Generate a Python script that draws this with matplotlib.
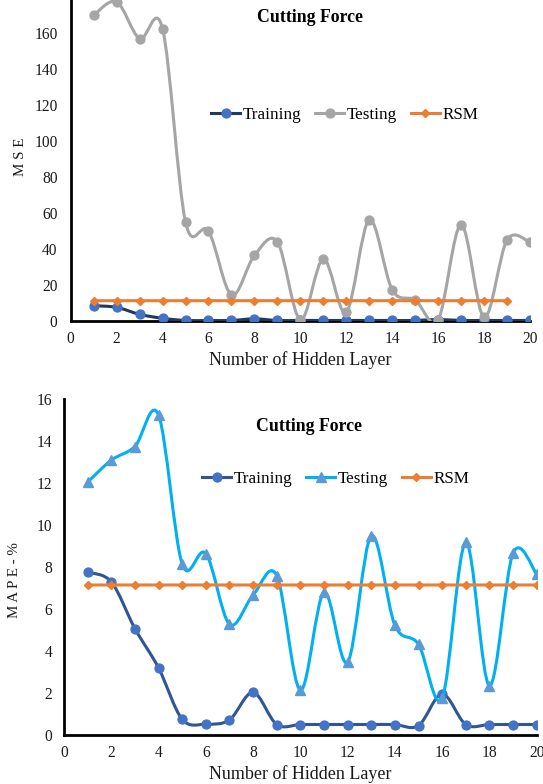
import numpy as np
import matplotlib
matplotlib.use("Agg")
import matplotlib.pyplot as plt
from matplotlib.path import Path
from matplotlib.patches import PathPatch
from matplotlib.lines import Line2D

plt.rcParams['font.family'] = ['Liberation Serif', 'DejaVu Serif']

layers = list(range(1, 21))

# MSE (top panel)
mse_training = [8.5, 7.6, 3.7, 1.5, 0.3, 0.3, 0.3, 1.2, 0.3, 0.3,
                0.3, 0.3, 0.3, 0.3, 0.3, 0.8, 0.3, 0.3, 0.3, 0.3]
mse_testing = [170, 177.5, 157, 162.5, 55, 50, 14.5, 36.5, 44, 0.7,
               34.5, 4.8, 56.3, 17.3, 11.7, 0.7, 53.5, 2, 45, 43.8]
rsm_layers = list(range(1, 20))
mse_rsm = [11.3] * 19

# MAPE (bottom panel)
mape_training = [7.75, 7.3, 5.07, 3.2, 0.75, 0.52, 0.72, 2.03, 0.5, 0.5,
                 0.5, 0.5, 0.5, 0.5, 0.45, 1.95, 0.5, 0.5, 0.5, 0.5]
mape_testing = [12.05, 13.1, 13.75, 15.25, 8.15, 8.65, 5.28, 6.67, 7.6, 2.14,
                6.8, 3.47, 9.5, 5.23, 4.32, 1.76, 9.19, 2.35, 8.67, 7.67]
mape_rsm = [7.15] * 20

W, H = 543, 784


def smooth(ax, x, y, color, lw, z):
    # Excel-style smoothed line: cubic Bezier through every point
    x = np.asarray(x, float)
    y = np.asarray(y, float)
    n = len(x)
    verts = [(x[0], y[0])]
    codes = [Path.MOVETO]
    for i in range(n - 1):
        p0 = np.array([x[max(i - 1, 0)], y[max(i - 1, 0)]])
        p1 = np.array([x[i], y[i]])
        p2 = np.array([x[i + 1], y[i + 1]])
        p3 = np.array([x[min(i + 2, n - 1)], y[min(i + 2, n - 1)]])
        c1 = p1 + (p2 - p0) / 6
        c2 = p2 - (p3 - p1) / 6
        verts += [tuple(c1), tuple(c2), tuple(p2)]
        codes += [Path.CURVE4] * 3
    ax.add_patch(PathPatch(Path(verts, codes), fill=False, edgecolor=color,
                           lw=lw, zorder=z, capstyle='round', joinstyle='round'))


def style_axes(ax, ymax, yticks, ypad):
    ax.set_xlim(0, 20)
    ax.set_ylim(0, ymax)
    ax.set_xticks(range(0, 21, 2))
    ax.set_yticks(yticks)
    for s in ['top', 'right']:
        ax.spines[s].set_visible(False)
    for s in ['left', 'bottom']:
        ax.spines[s].set_linewidth(2.0)
        ax.spines[s].set_color('black')
    ax.tick_params(axis='both', length=0, labelsize=11.2, colors='#1a1a1a')
    ax.tick_params(axis='y', pad=ypad)
    ax.tick_params(axis='x', pad=7.5)
    ax.set_facecolor('none')


fig = plt.figure(figsize=(W / 100, H / 100), dpi=100)

# ---------- top panel: MSE ----------
ax1 = fig.add_axes([70.7 / W, (H - 321) / H, (530 - 70.7) / W, (321 + 2.7) / H])
style_axes(ax1, 180, range(0, 161, 20), 9.5)
ax1.spines['bottom'].set_zorder(1)

train_line, train_mk = '#203864', '#4472C4'
smooth(ax1, layers, mse_training, train_line, 2.2, 2)
ax1.plot(layers, mse_training, ls='none', marker='o', ms=6.4, color=train_mk, zorder=3)
smooth(ax1, layers, mse_testing, '#A5A5A5', 2.2, 4)
ax1.plot(layers, mse_testing, ls='none', marker='o', ms=6.4, color='#A5A5A5', zorder=5)
smooth(ax1, rsm_layers, mse_rsm, '#ED7D31', 2.2, 6)
ax1.plot(rsm_layers, mse_rsm, ls='none', marker='D', ms=4, color='#ED7D31', zorder=7)

h1 = [Line2D([], [], color=train_line, lw=2.2, marker='o', ms=6.4, mfc=train_mk, mec=train_mk),
      Line2D([], [], color='#A5A5A5', lw=2.2, marker='o', ms=6.4),
      Line2D([], [], color='#ED7D31', lw=2.2, marker='D', ms=4)]
ax1.legend(h1, ['Training', 'Testing', 'RSM'], loc='center', ncol=3,
           bbox_to_anchor=(345 / W, 1 - 115 / H), bbox_transform=fig.transFigure,
           frameon=False, fontsize=12.3, handlelength=1.7, handletextpad=0.15,
           columnspacing=0.8, borderaxespad=0)

fig.text(310 / W, 1 - 17 / H, 'Cutting Force', ha='center', va='center',
         fontsize=12.8, fontweight='bold')
fig.text(300 / W, 1 - 360 / H, 'Number of Hidden Layer', ha='center', va='center',
         fontsize=13, color='#1a1a1a')
fig.text(20 / W, 1 - 157 / H, 'M S E', ha='center', va='center', rotation=90,
         fontsize=10.8, color='#1a1a1a')

# ---------- bottom panel: MAPE ----------
ax2 = fig.add_axes([64 / W, (H - 735) / H, (536.7 - 64) / W, (735 - 399.3) / H])
style_axes(ax2, 16, range(0, 17, 2), 8.5)

train_line2 = '#2F5597'
smooth(ax2, layers, mape_training, train_line2, 2.2, 2)
ax2.plot(layers, mape_training, ls='none', marker='o', ms=6.4, color=train_mk, zorder=3)
smooth(ax2, layers, mape_testing, '#00B0F0', 2.2, 4)
ax2.plot(layers, mape_testing, ls='none', marker='^', ms=6.8, color='#5B9BD5', zorder=5)
smooth(ax2, layers, mape_rsm, '#ED7D31', 2.2, 6)
ax2.plot(layers, mape_rsm, ls='none', marker='D', ms=4, color='#ED7D31', zorder=7)

h2 = [Line2D([], [], color=train_line2, lw=2.2, marker='o', ms=6.4, mfc=train_mk, mec=train_mk),
      Line2D([], [], color='#00B0F0', lw=2.2, marker='^', ms=6.8, mfc='#5B9BD5', mec='#5B9BD5'),
      Line2D([], [], color='#ED7D31', lw=2.2, marker='D', ms=4)]
ax2.legend(h2, ['Training', 'Testing', 'RSM'], loc='center', ncol=3,
           bbox_to_anchor=(336 / W, 1 - 479 / H), bbox_transform=fig.transFigure,
           frameon=False, fontsize=12.3, handlelength=1.7, handletextpad=0.15,
           columnspacing=0.8, borderaxespad=0)

fig.text(309 / W, 1 - 427 / H, 'Cutting Force', ha='center', va='center',
         fontsize=12.8, fontweight='bold')
fig.text(300 / W, 1 - 774 / H, 'Number of Hidden Layer', ha='center', va='center',
         fontsize=13, color='#1a1a1a')
fig.text(15 / W, 1 - 580 / H, 'M A P E - %', ha='center', va='center', rotation=90,
         fontsize=10.8, color='#1a1a1a')

fig.savefig('out.png', dpi=100)
